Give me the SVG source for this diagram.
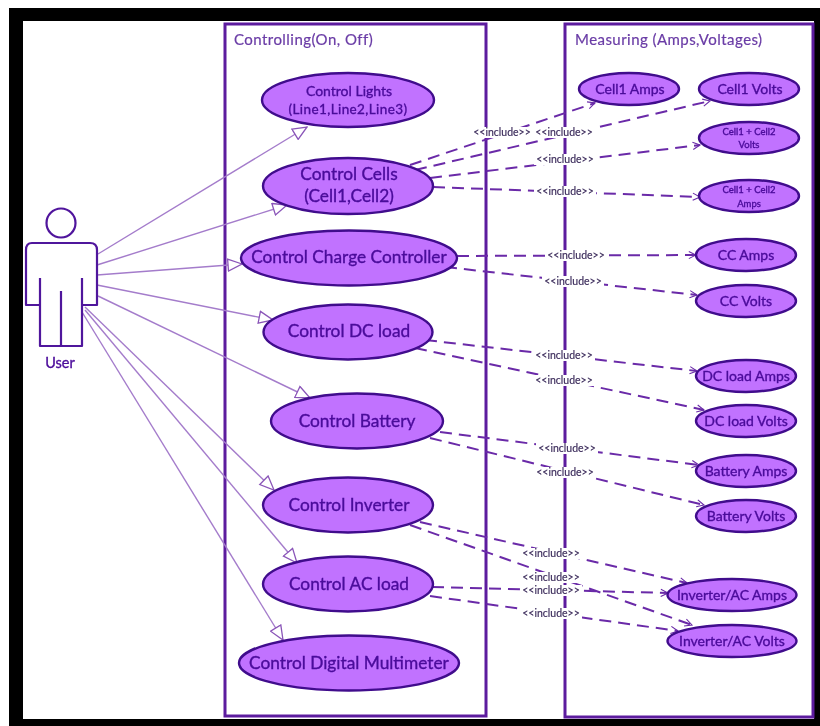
<svg xmlns="http://www.w3.org/2000/svg" width="820" height="726" viewBox="0 0 820 726">
<defs>
<filter id="soft" x="-5%" y="-5%" width="110%" height="110%"><feGaussianBlur stdDeviation="0.7"/></filter>
<marker id="open" viewBox="0 0 16 14" refX="15" refY="7" markerWidth="16" markerHeight="14" markerUnits="userSpaceOnUse" orient="auto"><path d="M1 1 L15 7 L1 13 Z" fill="#fff" stroke="#8a55b8" stroke-width="1.3"/></marker>
<marker id="vee" viewBox="0 0 10 10" refX="9" refY="5" markerWidth="9" markerHeight="9" markerUnits="userSpaceOnUse" orient="auto"><path d="M1 1 L9 5 L1 9" fill="none" stroke="#6a2aa8" stroke-width="1.2"/></marker>
</defs>
<style>
text{font-family:Lato,"Liberation Sans",sans-serif;text-anchor:middle;fill:#4a0a9a;stroke:#4a0a9a;stroke-width:.35}
.uc{fill:#c172ff;stroke:#3f0a8c;stroke-width:2.4}
.box{fill:#fff;stroke:#5c1a9e;stroke-width:3}
.title{font-size:15px;letter-spacing:.45px;text-anchor:start;fill:#6a3ca6;stroke:#6a3ca6;stroke-width:.2}
.big{font-size:17.3px}
.med{font-size:14px}
.lines{font-size:13.500px;letter-spacing:.4px}
.tiny{font-size:9.500px}
.assoc{stroke:#a47ccb;stroke-width:1.400;fill:none;marker-end:url(#open)}
.dep{stroke:#6a2aa8;stroke-width:2;fill:none;stroke-dasharray:12 7;marker-end:url(#vee)}
.inc{font-size:10.500px;fill:#3a2a5a;stroke:#3a2a5a;stroke-width:.15}
.bg{fill:#fff}
.actor{fill:#fff;stroke:#4f129c;stroke-width:2.2;stroke-linejoin:round}
</style>
<rect width="820" height="726" fill="#fff"/>
<path d="M9 8H820V726H9Z M23 21V719H814V21Z" fill="#000" fill-rule="evenodd"/>
<g filter="url(#soft)">
<g id="controlling"><rect class="box" x="225" y="24" width="261" height="692"/><text class="title" x="234" y="45">Controlling(On, Off)</text></g>
<g id="measuring"><rect class="box" x="565" y="24" width="248" height="693"/><text class="title" x="575" y="45">Measuring (Amps,Voltages)</text></g>
<g id="connectors">
<path class="assoc" d="M98 254L307 127"/>
<path class="assoc" d="M97 265L287 205"/>
<path class="assoc" d="M97 275L242 264"/>
<path class="assoc" d="M97 285L273 320"/>
<path class="assoc" d="M98 296L310 398"/>
<path class="assoc" d="M85 307L274 490"/>
<path class="assoc" d="M85 310L297 563"/>
<path class="assoc" d="M82 312L283 640"/>
<path class="dep" d="M410 165L595 103"/>
<path class="dep" d="M415 170L710 101"/>
<path class="dep" d="M430 178L700 145"/>
<path class="dep" d="M433 187L700 197"/>
<path class="dep" d="M457 256L696 255"/>
<path class="dep" d="M445 267L697 295"/>
<path class="dep" d="M425 340L697 371"/>
<path class="dep" d="M415 348L704 410"/>
<path class="dep" d="M440 432L699 465"/>
<path class="dep" d="M430 438L704 505"/>
<path class="dep" d="M420 522L687 583"/>
<path class="dep" d="M410 525L692 625"/>
<path class="dep" d="M432 587L668 593"/>
<path class="dep" d="M430 596L678 631"/>
<g id="include-labels">
<rect class="bg" x="470" y="127" width="126" height="11"/><text class="inc" x="502" y="136">&lt;&lt;include&gt;&gt;</text><text class="inc" x="564" y="136">&lt;&lt;include&gt;&gt;</text>
<rect class="bg" x="534" y="154" width="62" height="11"/><text class="inc" x="565" y="163">&lt;&lt;include&gt;&gt;</text>
<rect class="bg" x="534" y="186" width="62" height="11"/><text class="inc" x="565" y="195">&lt;&lt;include&gt;&gt;</text>
<rect class="bg" x="545" y="250" width="62" height="11"/><text class="inc" x="576" y="259">&lt;&lt;include&gt;&gt;</text>
<rect class="bg" x="542" y="276" width="62" height="11"/><text class="inc" x="573" y="285">&lt;&lt;include&gt;&gt;</text>
<rect class="bg" x="533" y="350" width="62" height="11"/><text class="inc" x="564" y="359">&lt;&lt;include&gt;&gt;</text>
<rect class="bg" x="533" y="375" width="62" height="11"/><text class="inc" x="564" y="384">&lt;&lt;include&gt;&gt;</text>
<rect class="bg" x="536" y="443" width="62" height="11"/><text class="inc" x="567" y="452">&lt;&lt;include&gt;&gt;</text>
<rect class="bg" x="534" y="467" width="62" height="11"/><text class="inc" x="565" y="476">&lt;&lt;include&gt;&gt;</text>
<rect class="bg" x="520" y="548" width="62" height="11"/><text class="inc" x="551" y="557">&lt;&lt;include&gt;&gt;</text>
<rect class="bg" x="520" y="572" width="62" height="11"/><text class="inc" x="551" y="581">&lt;&lt;include&gt;&gt;</text>
<rect class="bg" x="520" y="585" width="62" height="11"/><text class="inc" x="551" y="594">&lt;&lt;include&gt;&gt;</text>
<rect class="bg" x="520" y="608" width="62" height="11"/><text class="inc" x="551" y="617">&lt;&lt;include&gt;&gt;</text>
</g>
</g>
<g id="user"><circle class="actor" cx="61" cy="223" r="14.5"/><path class="actor" d="M32 243H90Q97 243 97 250V305H82V346H40V305H26V250Q26 243 32 243Z"/><path class="actor" d="M40 278V305M82 278V305M61 291V346"/><text x="60" y="368" style="font-size:14.500px">User</text></g>
<g id="uc-lights"><ellipse class="uc" cx="348" cy="100" rx="86" ry="27"/><text class="med" x="349" y="96">Control Lights</text><text class="lines" x="348" y="114">(Line1,Line2,Line3)</text></g>
<g id="uc-cells"><ellipse class="uc" cx="348" cy="186" rx="85" ry="28"/><text class="big" x="349" y="180">Control Cells</text><text class="big" x="349" y="202">(Cell1,Cell2)</text></g>
<g id="uc-charge"><ellipse class="uc" cx="349" cy="258" rx="108" ry="27.500"/><text class="big" x="349" y="263">Control Charge Controller</text></g>
<g id="uc-dc"><ellipse class="uc" cx="348" cy="332" rx="84.500" ry="27.500"/><text class="big" x="349" y="337">Control DC load</text></g>
<g id="uc-battery"><ellipse class="uc" cx="357" cy="421" rx="86" ry="27.500"/><text class="big" x="357" y="427">Control Battery</text></g>
<g id="uc-inverter"><ellipse class="uc" cx="348" cy="505" rx="85" ry="27.500"/><text class="big" x="349" y="511">Control Inverter</text></g>
<g id="uc-ac"><ellipse class="uc" cx="348" cy="584" rx="85" ry="27.500"/><text class="big" x="349" y="590">Control AC load</text></g>
<g id="uc-dmm"><ellipse class="uc" cx="349" cy="663" rx="110" ry="27.500"/><text class="big" x="349" y="669">Control Digital Multimeter</text></g>
<g id="m-cell1a"><ellipse class="uc" cx="629" cy="89" rx="50" ry="16"/><text class="med" x="630" y="94">Cell1 Amps</text></g>
<g id="m-cell1v"><ellipse class="uc" cx="749" cy="89" rx="50" ry="16"/><text class="med" x="750" y="94">Cell1 Volts</text></g>
<g id="m-bothv"><ellipse class="uc" cx="749" cy="138" rx="50" ry="16"/><text class="tiny" x="749" y="135">Cell1 + Cell2</text><text class="tiny" x="749" y="148">Volts</text></g>
<g id="m-botha"><ellipse class="uc" cx="749" cy="196" rx="50" ry="16"/><text class="tiny" x="749" y="193">Cell1 + Cell2</text><text class="tiny" x="749" y="207">Amps</text></g>
<g id="m-cca"><ellipse class="uc" cx="746" cy="255" rx="50" ry="16"/><text class="med" x="746" y="260">CC Amps</text></g>
<g id="m-ccv"><ellipse class="uc" cx="746" cy="301" rx="50" ry="16"/><text class="med" x="746" y="306">CC Volts</text></g>
<g id="m-dca"><ellipse class="uc" cx="746" cy="376" rx="50" ry="16"/><text class="med" x="746" y="381">DC load Amps</text></g>
<g id="m-dcv"><ellipse class="uc" cx="746" cy="421" rx="50" ry="16"/><text class="med" x="746" y="426">DC load Volts</text></g>
<g id="m-bata"><ellipse class="uc" cx="746" cy="471" rx="50" ry="16"/><text class="med" x="746" y="476">Battery Amps</text></g>
<g id="m-batv"><ellipse class="uc" cx="746" cy="516" rx="50" ry="16"/><text class="med" x="746" y="521">Battery Volts</text></g>
<g id="m-inva"><ellipse class="uc" cx="732" cy="595" rx="64.500" ry="16"/><text class="med" x="732" y="600">Inverter/AC Amps</text></g>
<g id="m-invv"><ellipse class="uc" cx="732" cy="641" rx="64.500" ry="16"/><text class="med" x="732" y="646">Inverter/AC Volts</text></g>
</g>
</svg>
